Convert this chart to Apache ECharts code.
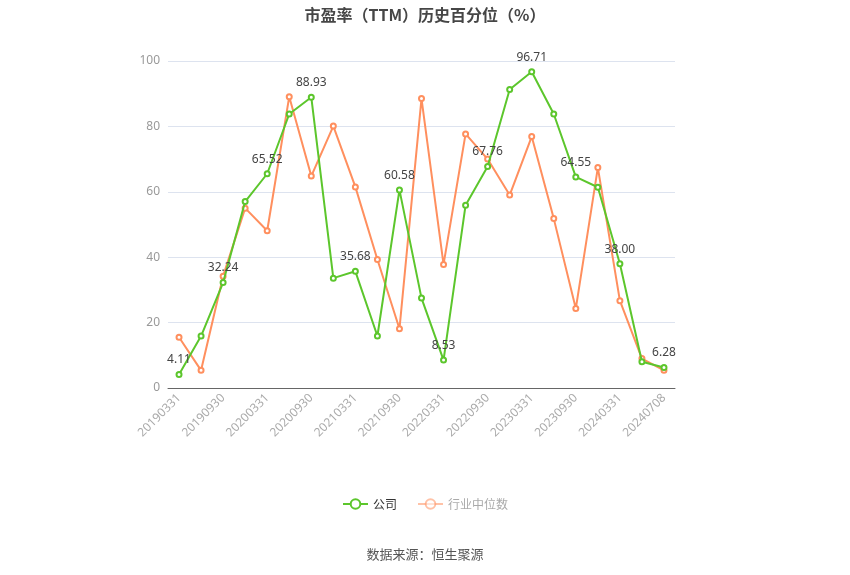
<!DOCTYPE html>
<html><head><meta charset="utf-8">
<script src="https://cdn.jsdelivr.net/npm/echarts@6/dist/echarts.min.js"></script>
<style>html,body{margin:0;padding:0;background:#fff}#c{width:850px;height:575px}</style>
</head><body><div id="c"></div>
<script>
var categories = ['20190331','20190630','20190930','20191231','20200331','20200630','20200930','20201231','20210331','20210630','20210930','20211231','20220331','20220630','20220930','20221231','20230331','20230630','20230930','20231231','20240331','20240630','20240708'];
var companyValues = [4.11,15.9,32.24,57.0,65.52,83.8,88.93,33.6,35.68,15.9,60.58,27.5,8.53,55.9,67.76,91.3,96.71,83.8,64.55,61.4,38.00,8.0,6.28];
var industryValues = [15.5,5.4,34.2,55.0,48.1,89.1,64.8,80.1,61.5,39.3,18.1,88.5,37.8,77.7,70.0,59.0,76.9,51.8,24.3,67.4,26.7,9.0,5.4];
var yTicks = [0,20,40,60,80,100];
var titleText = '市盈率（TTM）历史百分位（%）';
var sourceText = '数据来源：恒生聚源';
var seriesNames = ['公司','行业中位数'];

var chart = echarts.init(document.getElementById('c'));
chart.setOption({
  animation:false,
  title:[{text:titleText,left:'center',top:2,textStyle:{fontSize:16,fontWeight:'bold',color:'#464646',fontFamily:'Noto Sans CJK SC'}},
         {text:sourceText,left:'center',top:543,textStyle:{fontSize:13,fontWeight:'normal',color:'#555',fontFamily:'Noto Sans CJK SC'}}],
  legend:{bottom:60,left:'center',itemWidth:25,itemHeight:12,itemGap:20,
    textStyle:{fontSize:12,color:'#333',fontFamily:'Noto Sans CJK SC'},
    data:[{name:seriesNames[0]},{name:seriesNames[1],textStyle:{color:'#aaa'},itemStyle:{opacity:0.55},lineStyle:{opacity:0.55}}]},
  grid:{left:168,right:175,top:61,bottom:187},
  xAxis:{type:'category',data:categories,boundaryGap:true,
    axisLine:{lineStyle:{color:'#666'}},
    axisTick:{alignWithLabel:true,interval:1,lineStyle:{color:'#666'}},
    axisLabel:{interval:1,rotate:45,color:'#aaa',fontSize:12,fontFamily:'Noto Sans'}},
  yAxis:{type:'value',min:yTicks[0],max:yTicks[yTicks.length-1],interval:20,
    axisLine:{show:false},axisTick:{show:false},
    axisLabel:{color:'#999',fontSize:12,fontFamily:'Noto Sans'},
    splitLine:{lineStyle:{color:'#dde3ef'}}},
  series:[
    {name:seriesNames[0],type:'line',data:companyValues,symbol:'emptyCircle',symbolSize:5,
     itemStyle:{color:'#5cc62c'},lineStyle:{width:2,color:'#5cc62c'},z:3,
     label:{show:true,position:'top',color:'#444',fontSize:12,fontFamily:'Noto Sans',
       formatter:function(p){return p.dataIndex%2===0?p.value.toFixed(2):'';}}},
    {name:seriesNames[1],type:'line',data:industryValues,symbol:'emptyCircle',symbolSize:5,
     itemStyle:{color:'#ff8f5e'},lineStyle:{width:2,color:'#ff8f5e'},z:2}
  ]
});
</script></body></html>
